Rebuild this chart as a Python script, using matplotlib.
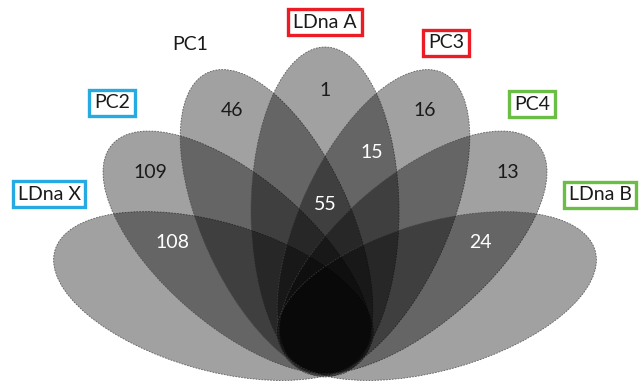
import matplotlib
matplotlib.use("Agg")
import matplotlib.pyplot as plt
from matplotlib.patches import Ellipse
import numpy as np

plt.rcParams["font.family"] = ["Lato", "DejaVu Sans"]

# sets, left to right around the fan
set_names = ["LDna X", "PC2", "PC1", "LDna A", "PC3", "PC4", "LDna B"]
set_tilts = [74.0, 49.3, 24.7, 0.0, -24.7, -49.3, -74.0]  # degrees from vertical
frame_colors = ["#27aae1", "#27aae1", None, "#ed1c24", "#ed1c24", "#6abd45", "#6abd45"]
label_pos = [(49, 194), (112, 285), (190, 344), (325, 366),
             (446, 345), (532, 284), (600, 193)]

# region counts
region_counts = [1, 46, 16, 15, 109, 13, 55, 108, 24]
region_pos = [(325, 298), (232, 277), (425, 277), (372, 235), (150, 215),
              (508, 215), (325, 183), (172, 145), (480, 145)]
region_dark = [False, False, False, True, False, False, True, True, True]

# common geometry of the petals
pivot = np.array([325.0, 60.0])
offset = 116.0
semi_major, semi_minor = 165.0, 74.0

fig = plt.figure(figsize=(6.43, 3.88), dpi=100)
ax = fig.add_axes([0, 0, 1, 1])
ax.set_xlim(0, 643)
ax.set_ylim(0, 388)
ax.axis("off")

for tilt in set_tilts:
    t = np.radians(tilt)
    center = pivot + offset * np.array([-np.sin(t), np.cos(t)])
    ax.add_patch(Ellipse(center, 2 * semi_minor, 2 * semi_major, angle=tilt,
                         facecolor="black", alpha=0.37, edgecolor="none"))
    ax.add_patch(Ellipse(center, 2 * semi_minor, 2 * semi_major, angle=tilt,
                         facecolor="none", edgecolor="#444444", lw=0.6,
                         linestyle=(0, (2, 1.5)), alpha=0.8))

for name, (x, y), col in zip(set_names, label_pos, frame_colors):
    if col is None:
        ax.text(x, y, name, ha="center", va="center", fontsize=14, color="#1a1a1a")
    else:
        ax.text(x, y, name, ha="center", va="center", fontsize=14, color="#1a1a1a",
                bbox=dict(boxstyle="square,pad=0.25", fc="white", ec=col, lw=2.4))

for n, (x, y), dark in zip(region_counts, region_pos, region_dark):
    ax.text(x, y, str(n), ha="center", va="center", fontsize=14,
            color="white" if dark else "#1a1a1a")

fig.savefig("out.png", dpi=100)
